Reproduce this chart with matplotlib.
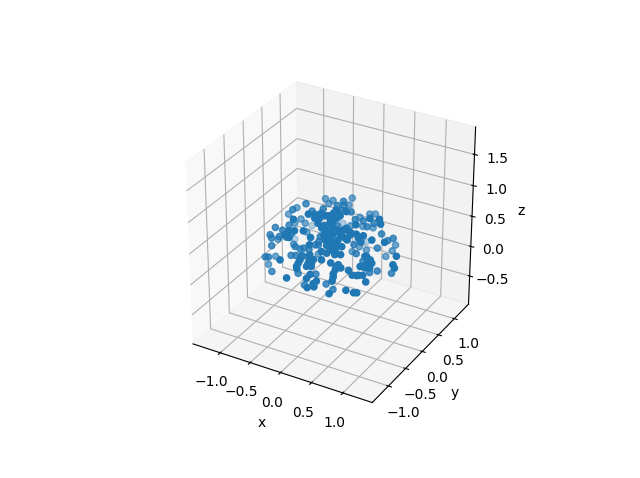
import numpy as np
import matplotlib
matplotlib.use('Agg')
import matplotlib.pyplot as plt

# point coordinates, in hundredths
x_vals = [-44, -33, -23, 1, 0, -27, -5, 3, -2, -21, 8, 2, 21, 14, -58, -65, -73, -34, -24, -16, -9, 1, 12, -40, -56, -49, -57, -9, -3, 4, -62, -62, -73, -63, -42, -35, -24, -44, -1, -24, 2, 22, 16, 27, 34, 64, 52, 32, 67, 46, 39, 36, 23, 37, 8, 30, 24, 17, 5, 2, 13, 24, 34, 41, 50, 59, 62, 12, 69, 78, 75, 70, 68, 97, 62, 59, 49, 29, 26, 36, 35, 19, 32, -13, -15, 11, 20, 28, 18, 9, -14, -12, -35, -42, -56, -79, -39, -56, -65, -77, -77, -74, -71, -75, -71, -74, -42, -80, -62, -28, -44, -38, -31, -24, -29, -22, 12, 22, 29, -7, 8, -3, -20, -19, -29, -8, -2, 20, 28, 34, 44, 57, 64, 61, 67, 46, 69, 67, 58, 50, 56, 63, 69, 96, 99, 85, -1, -7, -4, 9, 6, 28, 28, 9, -17, 0, 8, 19, 29, 48, 58, 62, 8, 12, 21, 29, 9, 5, 13, 21, 21, 15, 5, -18, -15, 27, 35, 45, 59, 64, 63, 70, -8, -7, -2, -18, -19, -31, -45, -51, -15, 8, 15, 6, 12, -9, -3, 5, 28, 30, 58, 27]
y_vals = [0, 36, 40, 28, 55, 35, 21, 26, 49, 9, -5, 21, 1, 27, -13, 10, 0, 0, -27, -23, -18, -14, -9, -41, 6, 6, -25, -22, -16, -15, -1, 47, -36, -33, -51, -47, -41, 2, -23, 71, 9, 25, 49, 58, 62, 19, 13, 30, 17, 36, 29, 52, 45, 0, 37, -9, -12, -17, -24, -29, -22, -17, -11, -6, -2, 35, 1, 76, 35, 9, 40, 57, 51, 9, 43, 23, -7, 9, 30, 33, 5, 22, -16, -40, -14, -29, -26, -24, -29, -33, -17, -45, -32, -34, -15, 26, -55, -34, -39, -23, -44, -45, -50, -61, -59, -35, -75, -45, -65, -81, -42, -39, -35, -26, -34, -4, -38, -33, -29, -54, -46, -55, -67, -68, -48, -60, -57, -41, -40, -37, -33, -23, -17, -12, -12, 5, -17, 9, 3, -33, -31, -26, -28, 1, 0, 18, -62, -36, -67, -62, -66, -48, -51, -35, -51, -72, -67, -33, -61, -47, -43, -41, -17, -19, -17, -16, -25, -31, -27, -22, -30, -34, -41, -19, -10, -9, -9, -7, -13, -16, -20, -13, -51, -57, -51, -61, -64, -29, -56, -28, -25, -13, -6, -9, -6, -26, -26, -18, -42, -37, -29, -46]
z_vals = [88, 82, 80, 91, 83, 76, 86, 86, 74, 82, 95, 80, 93, 78, 81, 71, 63, 79, 90, 90, 91, 88, 85, 84, 57, 52, 62, 85, 88, 85, 52, 24, 59, 56, 70, 70, 70, 41, 76, 27, 61, 69, 59, 63, 63, 84, 85, 67, 78, 64, 60, 46, 48, 77, 49, 70, 71, 71, 70, 65, 66, 65, 65, 66, 64, 51, 59, 4, 43, 56, 46, 25, 18, 39, 11, 34, 56, 38, 23, 19, 27, 17, 59, 62, 42, 57, 55, 51, 51, 52, 38, 53, 33, 36, 26, 7, 62, 47, 48, 32, 50, 46, 37, 23, 23, 11, 35, 1, 5, 13, 25, 25, 25, 32, 24, 14, 43, 41, 41, 36, 35, 31, 27, 24, 3, 27, 27, 31, 27, 25, 22, 27, 29, 39, 35, 18, 25, 6, 4, 16, 16, 16, 8, 29, 25, 3, 17, 2, 12, 9, 6, 14, 9, -10, -11, 1, 2, -17, -6, -2, -5, -5, 77, 71, 67, 61, 65, 59, 59, 59, 47, 47, 45, 38, 48, 73, 67, 61, 39, 31, 25, 31, 41, 31, 35, 35, 31, 34, 65, 52, 85, 83, 88, 91, 91, 79, 73, 79, 23, 29, 16, 18]

xs = np.array(x_vals) / 100
ys = np.array(y_vals) / 100
zs = np.array(z_vals) / 100

fig = plt.figure(figsize=(6.4, 4.78), dpi=100)
ax = fig.add_subplot(projection='3d')
ax.scatter(xs, ys, zs)
ax.set_xlim(-1.46, 1.46)
ax.set_ylim(-1.46, 1.46)
ax.set_zlim(-0.985, 1.935)
ax.set_box_aspect((1, 1, 1), zoom=0.945)
ax.set_xlabel('x')
ax.set_ylabel('y')
ax.set_zlabel('z')
fig.savefig('out.png', dpi=100)
